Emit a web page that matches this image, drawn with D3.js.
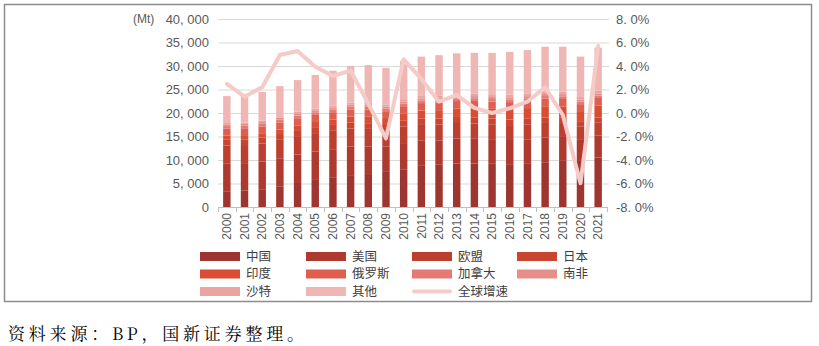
<!DOCTYPE html>
<html><head><meta charset="utf-8">
<script src="https://cdn.jsdelivr.net/npm/d3@7"></script>
<style>
body{margin:0;background:#fff;}
svg{display:block;font-family:"Liberation Sans","Noto Sans CJK SC",Arial,sans-serif;}
</style></head>
<body>
<svg id="c" width="819" height="346"></svg>
<script>
const years = ["2000","2001","2002","2003","2004","2005","2006","2007","2008","2009","2010","2011","2012","2013","2014","2015","2016","2017","2018","2019","2020","2021"];
const seriesNames = ["中国","美国","欧盟","日本","印度","俄罗斯","加拿大","南非","沙特","其他"];
const china  = [3349,3473,3778,4409,5106,5759,6332,6783,7007,7466,8037,8756,8984,9230,9253,9192,9117,9311,9522,9818,9974,10523];
const usa    = [5960,5860,5910,5960,6050,6060,5960,6050,5830,5370,5560,5430,5190,5340,5380,5240,5140,5090,5250,5090,4460,4700];
const eu     = [3780,3850,3830,3920,3930,3900,3920,3860,3780,3480,3560,3450,3380,3300,3130,3170,3170,3190,3110,2950,2640,2790];
const japan  = [1220,1210,1240,1250,1270,1270,1250,1280,1220,1130,1190,1230,1280,1270,1230,1200,1180,1170,1140,1110,1030,1050];
const india  = [890,900,940,970,1030,1090,1160,1260,1360,1480,1570,1650,1770,1850,2020,2080,2180,2280,2420,2430,2300,2550];
const russia = [1450,1460,1460,1490,1500,1510,1550,1540,1560,1460,1530,1590,1600,1550,1550,1520,1530,1530,1590,1580,1480,1580];
const canada = [560,550,560,580,580,570,560,590,570,540,550,560,560,570,570,570,560,570,580,580,530,540];
const safrica= [370,370,370,400,430,420,430,460,470,460,460,450,450,450,460,440,450,440,440,450,410,430];
const saudi  = [290,300,310,330,360,380,390,400,430,450,500,510,540,540,580,590,590,590,570,570,570,590];
const other  = [5731,6027,6102,6391,6744,7141,7448,7777,7973,7764,8143,8374,8546,8600,8627,8798,9083,9219,9478,9522,8606,9147];
const growth = [2.47,1.39,2.19,4.94,5.28,3.94,3.15,3.6,0.8,-2.16,4.57,2.9,0.96,1.53,0.43,0.0,0.4,0.96,2.19,-0.17,-5.98,5.7];
const leftTicks = [0,5000,10000,15000,20000,25000,30000,35000,40000];
const rightTicks = [-8,-6,-4,-2,0,2,4,6,8];
const lineName = "全球增速";

const colors = ["#9e3530","#ad392f","#bd3f2f","#c9452f","#d84d33","#de5f50","#e37a74","#e68f8a","#eaa4a2","#efb6b4"];
const lineColor = "#f5cbc8";

const svg = d3.select("#c");
svg.append("rect").attr("x",4.5).attr("y",4.5).attr("width",807).attr("height",297)
  .attr("fill","none").attr("stroke","#8c8c8c").attr("stroke-width",1.5);

const x = d3.scaleBand().domain(years).range([218,607]).paddingInner(0.58).paddingOuter(0.29);
const yL = d3.scaleLinear().domain([0,40000]).range([207,19]);
const yR = d3.scaleLinear().domain([-8,8]).range([207,19]);

svg.append("g").selectAll("line").data(leftTicks.filter(d=>d>0)).join("line")
  .attr("x1",218).attr("x2",609).attr("y1",d=>yL(d)+0.5).attr("y2",d=>yL(d)+0.5)
  .attr("stroke","#d9d9d9").attr("stroke-width",1);

const fmtL = d => d3.format(",")(d).replace(",", ", ");
svg.append("g").selectAll("text").data(leftTicks).join("text")
  .attr("x",209).attr("y",d=>yL(d)).attr("dy","0.35em").attr("text-anchor","end")
  .attr("font-size",13).attr("fill","#595959").text(fmtL);
svg.append("text").attr("x",133).attr("y",yL(40000)).attr("dy","0.35em")
  .attr("font-size",12).attr("fill","#595959").text("(Mt)");
svg.append("g").selectAll("text").data(rightTicks).join("text")
  .attr("x",616).attr("y",d=>yR(d)).attr("dy","0.35em").attr("text-anchor","start")
  .attr("font-size",13).attr("fill","#595959").text(d=>d3.format(".1f")(d).replace(".",". ").replace("−","-")+"%");

const seriesData = [china,usa,eu,japan,india,russia,canada,safrica,saudi,other];
const rows = years.map((y,i)=>{const o={year:y}; seriesNames.forEach((n,k)=>o[n]=seriesData[k][i]); return o;});
const stack = d3.stack().keys(seriesNames)(rows);
svg.append("g").selectAll("g").data(stack).join("g").attr("fill",(d,i)=>colors[i])
  .selectAll("rect").data(d=>d).join("rect")
  .attr("x",d=>x(d.data.year)).attr("width",x.bandwidth())
  .attr("y",d=>yL(d[1])).attr("height",d=>yL(d[0])-yL(d[1]));

svg.append("line").attr("x1",218).attr("x2",607).attr("y1",207.5).attr("y2",207.5).attr("stroke","#bfbfbf");
const edges = years.map(y=>x(y)-x.step()*x.paddingInner()/2).concat([607]);
svg.append("g").selectAll("line").data(edges).join("line")
  .attr("x1",d=>Math.round(d)+0.5).attr("x2",d=>Math.round(d)+0.5).attr("y1",207).attr("y2",212).attr("stroke","#bfbfbf");
svg.append("g").selectAll("text").data(years).join("text")
  .attr("transform",d=>`translate(${x(d)+x.bandwidth()/2},213) rotate(-90)`)
  .attr("dy","0.35em").attr("text-anchor","end").attr("font-size",12).attr("fill","#595959").text(d=>d);

const line = d3.line().x((d,i)=>x(years[i])+x.bandwidth()/2).y(d=>yR(d));
svg.append("path").datum(growth).attr("d",line).attr("fill","none")
  .attr("stroke",lineColor).attr("stroke-width",4).attr("stroke-linejoin","round").attr("stroke-linecap","round");

const colX = [200,306,412,517];
const rowY = [256.5,274,291.5];
const legItems = seriesNames.map((n,i)=>({n,c:colors[i],type:"rect"})).concat([{n:lineName,c:lineColor,type:"line"}]);
const lg = svg.append("g").selectAll("g").data(legItems).join("g")
  .attr("transform",(d,i)=>`translate(${colX[i%4]},${rowY[Math.floor(i/4)]})`);
lg.filter(d=>d.type==="rect").append("rect").attr("x",0).attr("y",-4.5).attr("width",40).attr("height",9).attr("fill",d=>d.c);
lg.filter(d=>d.type==="line").append("line").attr("x1",2).attr("x2",38).attr("y1",0).attr("y2",0)
  .attr("stroke",d=>d.c).attr("stroke-width",4).attr("stroke-linecap","round");
lg.append("text").attr("x",46).attr("y",0).attr("dy","0.35em").attr("font-size",12.5)
  .attr("fill","#404040").attr("font-family","'Noto Sans CJK SC',sans-serif").text(d=>d.n);

svg.append("text").attr("x",8).attr("y",340).attr("font-size",17).attr("letter-spacing",3.8)
  .attr("fill","#000").attr("font-family","'Noto Serif CJK SC','Noto Sans CJK SC',serif").text("资料来源：BP，国新证券整理。");
</script>
</body></html>
